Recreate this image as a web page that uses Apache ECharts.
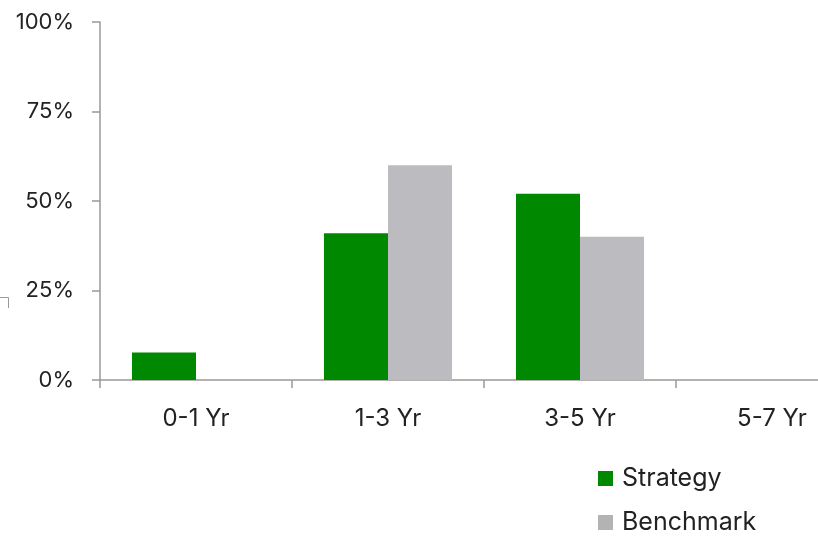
<!DOCTYPE html>
<html><head><meta charset="utf-8">
<script src="https://cdn.jsdelivr.net/npm/echarts@6/dist/echarts.min.js"></script>
<style>html,body{margin:0;padding:0;background:#fff;overflow:hidden;width:818px;height:536px}#c{width:900px;height:536px}</style>
</head><body><div id="c"></div>
<script>
var categories = ['0-1 Yr', '1-3 Yr', '3-5 Yr', '5-7 Yr'];
var strategy = [7.7, 41, 52, 0];
var benchmark = [0, 60, 40, 0];
var yTicks = [0, 25, 50, 75, 100];

var FONT = 'Inter';
var chart = echarts.init(document.getElementById('c'), null, {renderer: 'canvas'});
chart.setOption({
  animation: false,
  backgroundColor: '#fff',
  grid: {left: 100, top: 22, right: 32, bottom: 156, containLabel: false},
  xAxis: {
    type: 'category',
    data: categories,
    axisLine: {lineStyle: {color: '#999', width: 1.5}},
    axisTick: {show: true, length: 8, lineStyle: {color: '#999', width: 1.5}},
    axisLabel: {fontFamily: FONT, fontSize: 24, color: '#222', margin: 27}
  },
  yAxis: {
    type: 'value', min: 0, max: 100, interval: 25,
    axisLine: {show: true, lineStyle: {color: '#999', width: 1.5}},
    axisTick: {show: true, length: 8, lineStyle: {color: '#999', width: 1.5}},
    splitLine: {show: false},
    axisLabel: {fontFamily: FONT, fontSize: 22, color: '#222', margin: 26,
      formatter: function (v) { return v + '%'; }}
  },
  legend: {
    orient: 'vertical', left: 598, top: 466, padding: 0,
    itemWidth: 15, itemHeight: 15, itemGap: 19,
    icon: 'rect',
    textStyle: {fontFamily: FONT, fontSize: 25, color: '#222', lineHeight: 25, padding: [0, 0, 0, 4]},
    data: [{name: 'Strategy'}, {name: 'Benchmark', itemStyle: {color: '#b3b3b3'}}]
  },
  graphic: [{
    type: 'polyline', shape: {points: [[0, 297.5], [8.5, 297.5], [8.5, 308]]},
    style: {stroke: '#999', lineWidth: 1, fill: null}
  }],
  series: [
    {name: 'Strategy', type: 'bar', data: strategy, barGap: '0%', barCategoryGap: '33.3%',
      itemStyle: {color: '#008800'}},
    {name: 'Benchmark', type: 'bar', data: benchmark, barGap: '0%', barCategoryGap: '33.3%',
      itemStyle: {color: '#bcbbc0'}}
  ]
});
</script></body></html>
